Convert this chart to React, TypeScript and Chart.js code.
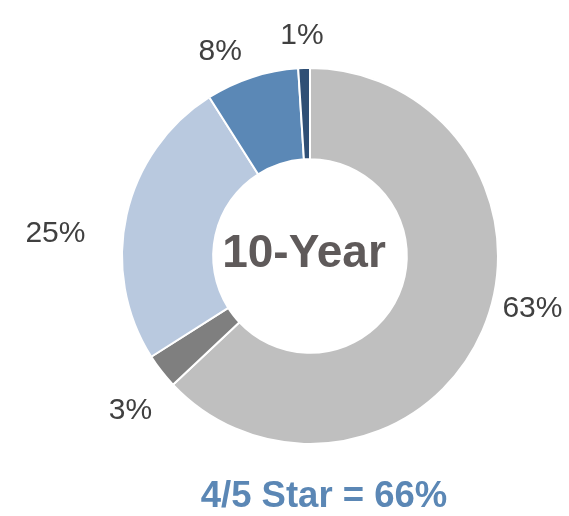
import React, { useEffect, useRef } from "react";
import { Chart, registerables } from "chart.js";

Chart.register(...registerables);

const categories = ["Segment A", "Segment B", "Segment C", "Segment D", "Segment E"];
const values = [63, 3, 25, 8, 1];
const labelTexts = ["63%", "3%", "25%", "8%", "1%"];
const colors = ["#BFBFBF", "#7F7F7F", "#B9C9DF", "#5B88B6", "#2F4F75"];
const centerText = "10-Year";
const footerText = "4/5 Star = 66%";

// label nudges (layout only)
const labelNudge: [number, number][] = [
  [15, -39],
  [-1, 14],
  [-34, 25],
  [-20, 8],
  [-1, 3],
];

const FONT = "'Liberation Sans', Arial, sans-serif";

const textPlugin = {
  id: "textPlugin",
  afterDatasetsDraw(chart: any) {
    const ctx = chart.ctx;
    const meta = chart.getDatasetMeta(0);
    const first = meta.data[0];
    if (!first) return;
    const cx = first.x;
    const cy = first.y;
    const R = first.outerRadius;
    ctx.save();
    ctx.fillStyle = "#404040";
    ctx.font = `30px ${FONT}`;
    ctx.textAlign = "center";
    ctx.textBaseline = "alphabetic";
    meta.data.forEach((arc: any, i: number) => {
      const mid = (arc.startAngle + arc.endAngle) / 2;
      const r = R + 38;
      const x = cx + Math.cos(mid) * r + labelNudge[i][0];
      const y = cy + Math.sin(mid) * r + labelNudge[i][1];
      ctx.fillText(labelTexts[i], x, y + 10.5);
    });
    ctx.fillStyle = "#5F5A5A";
    ctx.font = `bold 46px ${FONT}`;
    ctx.fillText(centerText, cx - 6, cy - 6 + 16.5);
    ctx.fillStyle = "#5B87B5";
    ctx.font = `bold 36.5px ${FONT}`;
    ctx.fillText(footerText, cx + 14, 493.5 + 13);
    ctx.restore();
  },
};

export default function App() {
  const ref = useRef<HTMLCanvasElement>(null);
  useEffect(() => {
    const canvas = ref.current;
    if (!canvas) return;
    const chart = new Chart(canvas, {
      type: "doughnut",
      data: {
        labels: categories,
        datasets: [
          {
            data: values,
            backgroundColor: colors,
            borderColor: "#FFFFFF",
            borderWidth: 2,
          },
        ],
      },
      options: {
        responsive: false,
        animation: false,
        cutout: "51.5%",
        rotation: 0,
        layout: { padding: { left: 121, right: 70, top: 67, bottom: 71 } },
        plugins: {
          legend: { display: false },
          tooltip: { enabled: false },
          title: { display: false },
        },
      },
      plugins: [textPlugin],
    });
    return () => chart.destroy();
  }, []);
  return (
    <div style={{ position: "absolute", left: 0, top: 0, width: 569, height: 516, background: "#fff" }}>
      <canvas ref={ref} width={569} height={516} style={{ width: 569, height: 516 }} />
    </div>
  );
}
